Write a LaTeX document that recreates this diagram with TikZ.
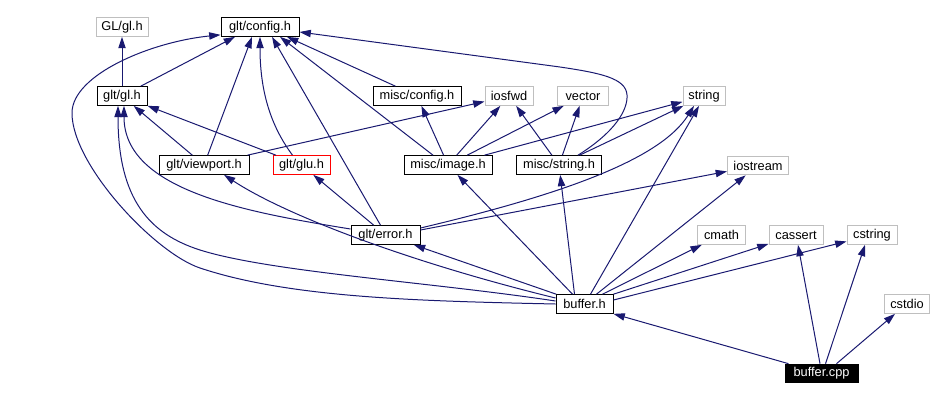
\documentclass[tikz,border=0pt]{standalone}
\usepackage{fontspec}
\setmainfont{Liberation Sans}
\usetikzlibrary{arrows.meta,calc}

\definecolor{edgeblue}{HTML}{191970}
\definecolor{extgray}{HTML}{BFBFBF}

\begin{document}
\begin{tikzpicture}[x=0.75pt,y=-0.75pt,
		file/.style={draw=black,line width=0.75pt,fill=white,inner sep=0pt,minimum height=14pt,font=\fontsize{9.6}{11}\selectfont},
		ext/.style={file,draw=extgray},
		cur/.style={file,draw=red},
		main/.style={file,fill=black,text=white},
		wd/.style={minimum width=#1*0.75pt},
		arr/.style={-{Triangle[length=8.5pt,width=5.5pt]},draw=edgeblue,line width=0.75pt}
		]
		
		\useasboundingbox (0,0) rectangle (934,401);
		
		% --- Files
		\node[ext,wd=52] (glh) at (122,27) {GL/gl.h};
		\node[file,wd=78] (config) at (260,27) {glt/config.h};
		\node[file,wd=50] (gl) at (122,96) {glt/gl.h};
		\node[file,wd=88] (miscconfig) at (417,96) {misc/config.h};
		\node[ext,wd=48] (iosfwd) at (509,96) {iosfwd};
		\node[ext,wd=51] (vector) at (583,96) {vector};
		\node[ext,wd=42] (string) at (704,96) {string};
		\node[file,wd=90] (viewport) at (204,165) {glt/viewport.h};
		\node[cur,wd=57] (glu) at (301.5,165) {glt/glu.h};
		\node[file,wd=88] (image) at (448,165) {misc/image.h};
		\node[file,wd=85] (miscstring) at (559,165) {misc/string.h};
		\node[ext,wd=61] (iostream) at (758,165.5) {iostream};
		\node[file,wd=69] (error) at (385.5,235) {glt/error.h};
		\node[ext,wd=48] (cmath) at (721.5,235) {cmath};
		\node[ext,wd=54] (cassert) at (796,235) {cassert};
		\node[ext,wd=50] (cstring) at (872,235) {cstring};
		\node[file,wd=57] (buffer) at (584.5,304) {buffer.h};
		\node[ext,wd=45] (cstdio) at (907,304) {cstdio};
		\node[main,wd=73] (cpp) at (821.5,373.5) {buffer.cpp};
		
		% --- glt/gl.h
		\draw[arr] (gl) -- (glh);
		\draw[arr] (gl) -- ($(config.south)+(-25,0)$);
		
		% --- glt/viewport.h, glt/glu.h
		\draw[arr] (viewport) -- (gl);
		\draw[arr] (viewport) -- ($(config.south)+(-8,0)$);
		\draw[arr] (viewport) -- (iosfwd);
		\draw[arr] (glu) -- (gl);
		\draw[arr] ($(glu.north)+(-9,0)$) .. controls (270,125) and (260,90) .. (config.south);
		
		% --- misc/config.h, misc/image.h, misc/string.h
		\draw[arr] (miscconfig) -- ($(config.south)+(27,0)$);
		\draw[arr] ($(image.north)+(-15,0)$) -- ($(config.south)+(20,0)$);
		\draw[arr] (image) -- (miscconfig);
		\draw[arr] (image) -- (iosfwd);
		\draw[arr] (image) -- (vector);
		\draw[arr] (image) -- (string);
		\draw[arr] (miscstring) -- (iosfwd);
		\draw[arr] (miscstring) -- (vector);
		\draw[arr] (miscstring) -- (string);
		\draw[arr] ($(miscstring.north)+(19,0)$) .. controls (615,132) and (628,110) .. (627,95)
		.. controls (626,78) and (600,73) .. (560,67) -- ($(config.east)+(0,5)$);
		
		% --- glt/error.h
		\draw[arr] ($(error.west)+(0,-6)$) .. controls (245,212) and (124,190) .. ($(gl.south)+(2,0)$);
		\draw[arr] ($(error.north)+(-5,0)$) -- ($(config.south)+(12,0)$);
		\draw[arr] (error) -- (glu);
		\draw[arr] ($(error.east)+(0,-7)$) .. controls (560,195) and (660,160) .. ($(string.south)+(-10,0)$);
		\draw[arr] ($(error.east)+(0,-5)$) -- (iostream);
		
		% --- buffer.h
		\draw[arr] (buffer.west) .. controls (420,301) and (290,298) .. (200,268)
		.. controls (155,253) and (72,165) .. (72,113)
		.. controls (72,75) and (150,42) .. ($(config.south west)+(0,-2)$);
		\draw[arr] ($(buffer.west)+(0,-3)$) .. controls (430,282) and (270,272) .. (200,250)
		.. controls (150,234) and (118,200) .. ($(gl.south)+(-4,0)$);
		\draw[arr] ($(buffer.west)+(0,-6)$) .. controls (420,265) and (290,218) .. ($(viewport.south)+(20,0)$);
		\draw[arr] (buffer) -- (error);
		\draw[arr] ($(buffer.north)+(-12,0)$) -- (image);
		\draw[arr] ($(buffer.north)+(-10,0)$) -- (miscstring);
		\draw[arr] ($(buffer.north)+(6,0)$) -- ($(string.south)+(-5,0)$);
		\draw[arr] ($(buffer.north)+(12,0)$) -- (iostream);
		\draw[arr] ($(buffer.north)+(18,0)$) -- (cmath);
		\draw[arr] (buffer.north east) -- (cassert);
		\draw[arr] ($(buffer.east)+(0,-4)$) -- (cstring);
		
		% --- buffer.cpp
		\draw[arr] ($(cpp.north west)+(4,0)$) -- (buffer.south east);
		\draw[arr] ($(cpp.north)+(-1.5,0)$) -- ($(cassert.south)+(2,0)$);
		\draw[arr] ($(cpp.north)+(4,0)$) -- ($(cstring.south)+(-7,0)$);
		\draw[arr] ($(cpp.north)+(15,0)$) -- ($(cstdio.south)+(-12,0)$);
		
	\end{tikzpicture}
\end{document}
